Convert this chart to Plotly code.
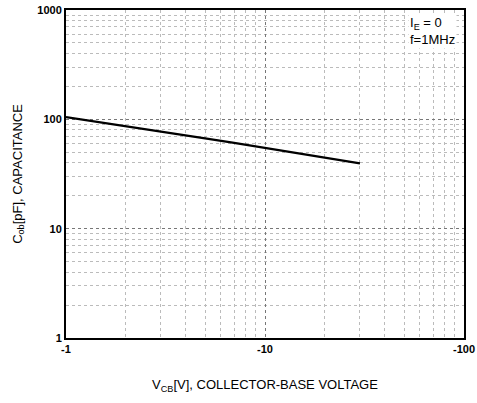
import plotly.graph_objects as go

# Data
v_cb = [-1, -2, -3, -5, -7, -10, -15, -20, -30]          # V
c_ob = [105, 86, 77, 67, 61, 55, 49, 45, 39.5]            # pF

x_tick_vals = [1, 10, 100]
x_tick_text = ["-1", "-10", "-100"]
y_tick_vals = [1, 10, 100, 1000]
y_tick_text = ["1", "10", "100", "1000"]
x_minor = [2, 3, 4, 5, 6, 7, 8, 9, 20, 30, 40, 50, 60, 70, 80, 90]
y_minor = [2, 3, 4, 5, 6, 7, 8, 9, 20, 30, 40, 50, 60, 70, 80, 90,
           200, 300, 400, 500, 600, 700, 800, 900]

fig = go.Figure()
fig.add_trace(go.Scatter(
    x=[abs(v) for v in v_cb], y=c_ob, mode="lines",
    line=dict(color="black", width=2.2), showlegend=False,
))

font = "Liberation Sans, Arial, sans-serif"
fig.update_layout(
    width=477, height=403,
    margin=dict(l=66, r=13, t=10, b=65),
    paper_bgcolor="white", plot_bgcolor="white",
    font=dict(family=font, color="black"),
    xaxis=dict(
        type="log", range=[0, 2], automargin=False,
        tickvals=x_tick_vals, ticktext=x_tick_text,
        tickfont=dict(size=11, family=font, weight="bold"),
        ticks="", ticklen=0,
        showline=True, linecolor="black", linewidth=2, mirror=True,
        showgrid=True, gridcolor="#777777", gridwidth=1, griddash="dot",
        minor=dict(tickvals=x_minor, showgrid=True, gridcolor="#bbbbbb",
                   gridwidth=1, griddash="dot"),
        title=dict(text="V<sub>CB</sub>[V], COLLECTOR-BASE VOLTAGE",
                   font=dict(size=13), standoff=26),
        zeroline=False,
    ),
    yaxis=dict(
        type="log", range=[0, 3], automargin=False,
        tickvals=y_tick_vals, ticktext=y_tick_text,
        tickfont=dict(size=11, family=font, weight="bold"),
        ticks="", ticklen=0,
        showline=True, linecolor="black", linewidth=2, mirror=True,
        showgrid=True, gridcolor="#777777", gridwidth=1, griddash="dot",
        minor=dict(tickvals=y_minor, showgrid=True, gridcolor="#bbbbbb",
                   gridwidth=1, griddash="dot"),
        title=dict(text="C<sub>ob</sub>[pF], CAPACITANCE",
                   font=dict(size=13), standoff=12),
        zeroline=False,
    ),
    annotations=[
        dict(xref="paper", yref="paper", x=0.86, y=0.99, xanchor="left",
             yanchor="top", showarrow=False, align="left",
             text="I<sub>E</sub> = 0<br>f=1MHz",
             font=dict(size=13, family=font), bgcolor="white"),
    ],
)

fig.write_html("out.html", config={"displayModeBar": False},
               post_script="document.body.style.margin='0';document.body.style.padding='0';")
